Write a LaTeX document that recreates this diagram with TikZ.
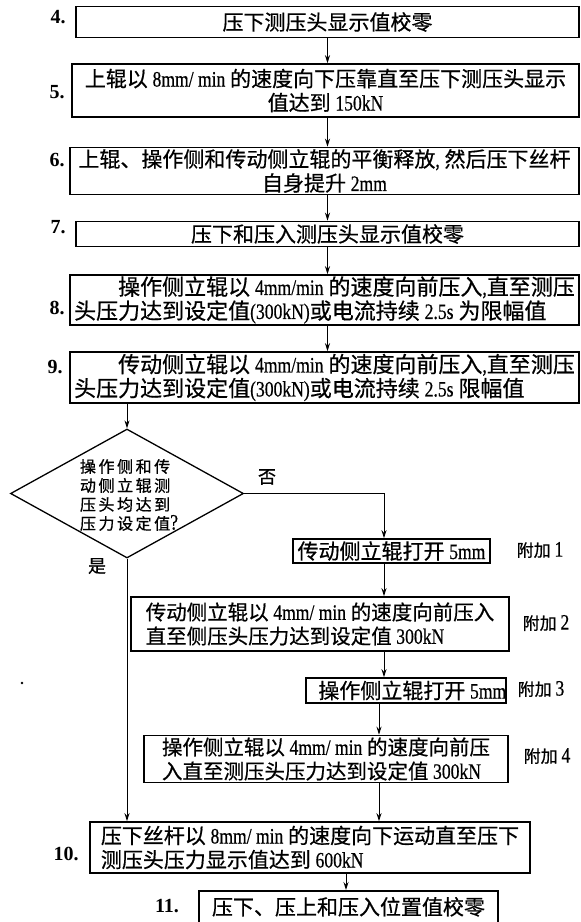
\documentclass[tikz,border=0pt]{standalone}
\usepackage{fontspec}
\setmainfont{Liberation Serif}
\newfontfamily\cjk[FakeBold=0.6]{Noto Sans CJK SC}
\newfontfamily\cjksp[LetterSpace=16,FakeBold=0.8]{Noto Sans CJK SC}
\newfontfamily\latin[FakeStretch=0.8,FakeBold=0.5]{Liberation Serif}
\newfontfamily\latinb{Liberation Serif}
\newcommand\en[1]{{\latin\fontsize{22}{24}\selectfont #1}}
\newcommand\fsz[1]{\fontsize{#1}{24}\selectfont}
\usetikzlibrary{arrows.meta,shapes.geometric}
\begin{document}
\begin{tikzpicture}[x=1pt,y=-1pt,
  box/.style={draw, line width=1.6pt, inner sep=0pt, font=\cjk\fsz{21}},
  num/.style={font=\latinb\bfseries\fontsize{20}{22}\selectfont, inner sep=0pt},
  side/.style={font=\cjk\fsz{17}, inner sep=0pt},
  yn/.style={font=\cjk\fsz{18}, inner sep=0pt},
  arr/.style={line width=1pt, -{Stealth[length=8pt,width=5pt]}},
  ln/.style={line width=1pt}]
\useasboundingbox (0,0) rectangle (581,922);
\clip (0,0) rectangle (581,922);

% main chain
\node[box, minimum width=503pt, minimum height=31pt] (b4) at (327.5,22) {压下测压头显示值校零};
\node[num] (n4) at (58,17) {4.};

\node[box, minimum width=507pt, minimum height=53pt, align=center] (b5) at (325.5,90.5)
  {上辊以 \en{8mm/ min} 的速度向下压靠直至压下测压头显示\\值达到 \en{150kN}};
\node[num] (n5) at (57,92) {5.};

\node[box, minimum width=509pt, minimum height=47pt, align=center] (b6) at (324.5,171)
  {上辊、操作侧和传动侧立辊的平衡释放\en{,} 然后压下丝杆\\自身提升 \en{2mm}};
\node[num] (n6) at (57,160) {6.};

\node[box, minimum width=503pt, minimum height=25pt] (b7) at (327.5,234) {压下和压入测压头显示值校零};
\node[num] (n7) at (58,227) {7.};

\node[box, minimum width=509pt, minimum height=50pt, align=left, font=\cjk\fsz{22}] (b8) at (324.5,300)
  {\hspace*{2em}操作侧立辊以 \en{4mm/min} 的速度向前压入\en{,}直至测压\\头压力达到设定值\en{(300kN)}或电流持续 \en{2.5s} 为限幅值};
\node[num] (n8) at (57,308) {8.};

\node[box, minimum width=509pt, minimum height=51pt, align=left, font=\cjk\fsz{22}] (b9) at (324.5,377.5)
  {\hspace*{2em}传动侧立辊以 \en{4mm/min} 的速度向前压入\en{,}直至测压\\头压力达到设定值\en{(300kN)}或电流持续 \en{2.5s} 限幅值};
\node[num] (n9) at (55,367) {9.};

% decision
\node[draw, diamond, line width=1.3pt, minimum width=233pt, minimum height=129pt, inner sep=0pt] (dec) at (127,493.5) {};
\node[font=\cjksp\fontsize{16}{19}\selectfont, align=left, inner sep=0pt] (dtext) at (129,495)
  {操作侧和传\\动侧立辊测\\压头均达到\\压力设定值\en{?}};
\node[yn] (no) at (267,477) {否};
\node[yn] (yes) at (97,566) {是};

% additional steps
\node[box, minimum width=197pt, minimum height=24pt] (a1) at (391.5,551) {传动侧立辊打开 \en{5mm}};
\node[side] (l1) at (540,550) {附加 \en{1}};

\node[box, minimum width=378pt, minimum height=54pt, align=left, font=\cjk\fsz{20.5}] (a2) at (320,624)
  {传动侧立辊以 \en{4mm/ min} 的速度向前压入\\直至侧压头压力达到设定值 \en{300kN}};
\node[side] (l2) at (546,623) {附加 \en{2}};

\node[box, minimum width=194pt, minimum height=25pt] (a3) at (406,690.5) {\hspace*{0.6em}操作侧立辊打开 \en{5mm}};
\node[side] (l3) at (541,689) {附加 \en{3}};

\node[box, minimum width=364pt, minimum height=47pt, align=left, font=\cjk\fsz{20.5}] (a4) at (326,759)
  {操作侧立辊以 \en{4mm/ min} 的速度向前压\\入直至测压头压力达到设定值 \en{300kN}};
\node[side] (l4) at (547,756) {附加 \en{4}};

% final steps
\node[box, minimum width=440pt, minimum height=51pt, align=left] (b10) at (310,847.5)
  {压下丝杆以 \en{8mm/ min} 的速度向下运动直至压下\\测压头压力显示值达到 \en{600kN}};
\node[num] (n10) at (66,854) {10.};

\node[box, minimum width=299pt, anchor=north, text height=24pt, text depth=30pt] (b11) at (348.5,890) {压下、压上和压入位置值校零};
\node[num] (n11) at (167,906) {11.};

% stray dot
\fill (22,683) circle (1.3pt);

% routing coordinates
\coordinate (cx) at (384,0);
\coordinate (cy) at (379,0);
\coordinate (cz) at (346,0);

% connectors
\draw[arr] (b4.south) -- (b4.south |- b5.north);
\draw[arr] (b4.south |- b5.south) -- (b4.south |- b6.north);
\draw[arr] (b4.south |- b6.south) -- (b4.south |- b7.north);
\draw[arr] (b4.south |- b7.south) -- (b4.south |- b8.north);
\draw[arr] (b4.south |- b8.south) -- (b4.south |- b9.north);
\draw[arr] (dec.north |- b9.south) -- (dec.north);
\draw[arr] (dec.east) -- (dec.east -| cx) -- (cx |- a1.north);
\draw[arr] (cx |- a1.south) -- (cx |- a2.north);
\draw[arr] (cx |- a2.south) -- (cx |- a3.north);
\draw[arr] (cy |- a3.south) -- (cy |- a4.north);
\draw[arr] (cy |- a4.south) -- (cy |- b10.north);
\draw[arr] (dec.south) -- (dec.south |- b10.north);
\draw[arr] (cz |- b10.south) -- (cz |- b11.north);
\end{tikzpicture}
\end{document}
